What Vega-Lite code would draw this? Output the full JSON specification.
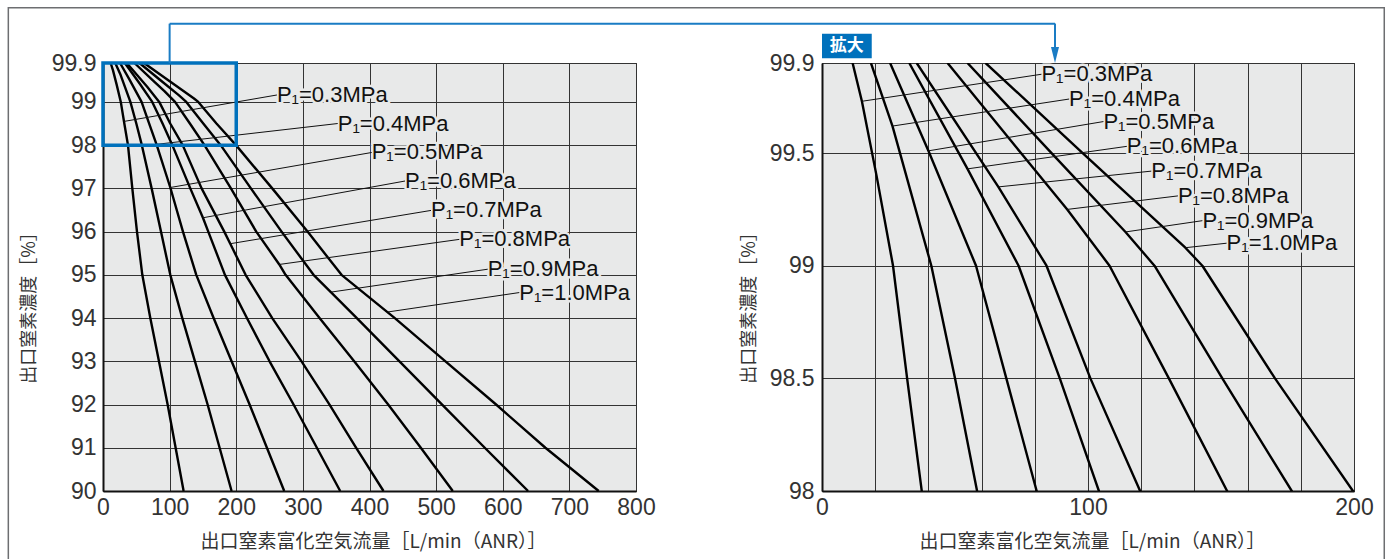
{
  "$schema": "https://vega.github.io/schema/vega-lite/v6.json",
  "background": "white",
  "padding": {"left": 7, "top": 6, "right": 0, "bottom": 0},
  "bounds": "flush",
  "spacing": 186,
  "config": {
    "view": {"stroke": "#222222", "strokeWidth": 1, "fill": "#e8e9e9"},
    "axis": {
      "labelFont": "Liberation Sans", "labelFontSize": 23, "labelColor": "#333333",
      "titleFont": "Noto Sans CJK JP", "titleFontWeight": "normal", "titleColor": "#333333",
      "gridColor": "#333333", "gridWidth": 1, "gridOpacity": 1,
      "ticks": false, "domainColor": "#111111", "domainWidth": 2,
      "labelFlush": false, "labelOverlap": false
    },
    "text": {"font": "Liberation Sans"}
  },
  "datasets": {
    "curves": [
      {"p": "0.3", "i": 0, "x": 11.5, "y": 99.9}, {"p": "0.3", "i": 1, "x": 15, "y": 99.73}, {"p": "0.3", "i": 2, "x": 20.5, "y": 99.4}, {"p": "0.3", "i": 3, "x": 26.7, "y": 99}, {"p": "0.3", "i": 4, "x": 32, "y": 98.5}, {"p": "0.3", "i": 5, "x": 37.5, "y": 98}, {"p": "0.3", "i": 6, "x": 44, "y": 97}, {"p": "0.3", "i": 7, "x": 51, "y": 96}, {"p": "0.3", "i": 8, "x": 59, "y": 95}, {"p": "0.3", "i": 9, "x": 71, "y": 94}, {"p": "0.3", "i": 10, "x": 84, "y": 93}, {"p": "0.3", "i": 11, "x": 97, "y": 92}, {"p": "0.3", "i": 12, "x": 109, "y": 91}, {"p": "0.3", "i": 13, "x": 121, "y": 90},
      {"p": "0.4", "i": 0, "x": 18.4, "y": 99.9}, {"p": "0.4", "i": 1, "x": 26.5, "y": 99.62}, {"p": "0.4", "i": 2, "x": 41.1, "y": 99}, {"p": "0.4", "i": 3, "x": 50, "y": 98.5}, {"p": "0.4", "i": 4, "x": 58.3, "y": 98}, {"p": "0.4", "i": 5, "x": 73, "y": 97}, {"p": "0.4", "i": 6, "x": 87, "y": 96}, {"p": "0.4", "i": 7, "x": 101, "y": 95}, {"p": "0.4", "i": 8, "x": 119, "y": 94}, {"p": "0.4", "i": 9, "x": 138, "y": 93}, {"p": "0.4", "i": 10, "x": 157, "y": 92}, {"p": "0.4", "i": 11, "x": 175, "y": 91}, {"p": "0.4", "i": 12, "x": 193, "y": 90},
      {"p": "0.5", "i": 0, "x": 25.6, "y": 99.9}, {"p": "0.5", "i": 1, "x": 40, "y": 99.51}, {"p": "0.5", "i": 2, "x": 57.9, "y": 99}, {"p": "0.5", "i": 3, "x": 69.3, "y": 98.5}, {"p": "0.5", "i": 4, "x": 80.7, "y": 98}, {"p": "0.5", "i": 5, "x": 101, "y": 97.02}, {"p": "0.5", "i": 6, "x": 120, "y": 96}, {"p": "0.5", "i": 7, "x": 140, "y": 95}, {"p": "0.5", "i": 8, "x": 166, "y": 94}, {"p": "0.5", "i": 9, "x": 193, "y": 93}, {"p": "0.5", "i": 10, "x": 220, "y": 92}, {"p": "0.5", "i": 11, "x": 246, "y": 91}, {"p": "0.5", "i": 12, "x": 272, "y": 90},
      {"p": "0.6", "i": 0, "x": 32.8, "y": 99.9}, {"p": "0.6", "i": 1, "x": 54.7, "y": 99.43}, {"p": "0.6", "i": 2, "x": 73.9, "y": 99}, {"p": "0.6", "i": 3, "x": 89.4, "y": 98.5}, {"p": "0.6", "i": 4, "x": 104.1, "y": 98}, {"p": "0.6", "i": 5, "x": 131, "y": 97}, {"p": "0.6", "i": 6, "x": 150, "y": 96.32}, {"p": "0.6", "i": 7, "x": 158, "y": 96}, {"p": "0.6", "i": 8, "x": 183, "y": 95}, {"p": "0.6", "i": 9, "x": 216, "y": 94}, {"p": "0.6", "i": 10, "x": 250, "y": 93}, {"p": "0.6", "i": 11, "x": 286, "y": 92}, {"p": "0.6", "i": 12, "x": 321, "y": 91}, {"p": "0.6", "i": 13, "x": 356, "y": 90},
      {"p": "0.7", "i": 0, "x": 35.6, "y": 99.9}, {"p": "0.7", "i": 1, "x": 66.3, "y": 99.35}, {"p": "0.7", "i": 2, "x": 84.4, "y": 99}, {"p": "0.7", "i": 3, "x": 100.9, "y": 98.5}, {"p": "0.7", "i": 4, "x": 119.6, "y": 98}, {"p": "0.7", "i": 5, "x": 148, "y": 97}, {"p": "0.7", "i": 6, "x": 182, "y": 96}, {"p": "0.7", "i": 7, "x": 191, "y": 95.72}, {"p": "0.7", "i": 8, "x": 214, "y": 95}, {"p": "0.7", "i": 9, "x": 254, "y": 94}, {"p": "0.7", "i": 10, "x": 298, "y": 93}, {"p": "0.7", "i": 11, "x": 340, "y": 92}, {"p": "0.7", "i": 12, "x": 380, "y": 91}, {"p": "0.7", "i": 13, "x": 421, "y": 90},
      {"p": "0.8", "i": 0, "x": 47.2, "y": 99.9}, {"p": "0.8", "i": 1, "x": 74.8, "y": 99.5}, {"p": "0.8", "i": 2, "x": 92.2, "y": 99.25}, {"p": "0.8", "i": 3, "x": 108.1, "y": 99}, {"p": "0.8", "i": 4, "x": 130.4, "y": 98.5}, {"p": "0.8", "i": 5, "x": 152.3, "y": 98}, {"p": "0.8", "i": 6, "x": 192, "y": 97}, {"p": "0.8", "i": 7, "x": 230, "y": 96}, {"p": "0.8", "i": 8, "x": 264.6, "y": 95.24}, {"p": "0.8", "i": 9, "x": 274, "y": 95}, {"p": "0.8", "i": 10, "x": 325, "y": 94}, {"p": "0.8", "i": 11, "x": 377, "y": 93}, {"p": "0.8", "i": 12, "x": 428, "y": 92}, {"p": "0.8", "i": 13, "x": 477, "y": 91}, {"p": "0.8", "i": 14, "x": 525, "y": 90},
      {"p": "0.9", "i": 0, "x": 54.7, "y": 99.9}, {"p": "0.9", "i": 1, "x": 86.3, "y": 99.5}, {"p": "0.9", "i": 2, "x": 114.1, "y": 99.15}, {"p": "0.9", "i": 3, "x": 125, "y": 99}, {"p": "0.9", "i": 4, "x": 150.5, "y": 98.5}, {"p": "0.9", "i": 5, "x": 176.6, "y": 98}, {"p": "0.9", "i": 6, "x": 222, "y": 97}, {"p": "0.9", "i": 7, "x": 268, "y": 96}, {"p": "0.9", "i": 8, "x": 316, "y": 95}, {"p": "0.9", "i": 9, "x": 342, "y": 94.6}, {"p": "0.9", "i": 10, "x": 381, "y": 94}, {"p": "0.9", "i": 11, "x": 445, "y": 93}, {"p": "0.9", "i": 12, "x": 509, "y": 92}, {"p": "0.9", "i": 13, "x": 573, "y": 91}, {"p": "0.9", "i": 14, "x": 638, "y": 90},
      {"p": "1.0", "i": 0, "x": 61.5, "y": 99.9}, {"p": "1.0", "i": 1, "x": 98, "y": 99.5}, {"p": "1.0", "i": 2, "x": 136.6, "y": 99.08}, {"p": "1.0", "i": 3, "x": 143, "y": 99}, {"p": "1.0", "i": 4, "x": 170.3, "y": 98.5}, {"p": "1.0", "i": 5, "x": 199.6, "y": 98}, {"p": "1.0", "i": 6, "x": 254, "y": 97}, {"p": "1.0", "i": 7, "x": 307, "y": 96}, {"p": "1.0", "i": 8, "x": 358, "y": 95}, {"p": "1.0", "i": 9, "x": 438, "y": 94}, {"p": "1.0", "i": 10, "x": 514, "y": 93}, {"p": "1.0", "i": 11, "x": 590, "y": 92}, {"p": "1.0", "i": 12, "x": 664, "y": 91}, {"p": "1.0", "i": 13, "x": 744, "y": 90}
    ],
    "labels": [
      {"panel": "L", "label": "P\u2081=0.3MPa", "x": 261, "y": 99.16, "x2": 32, "y2": 98.55},
      {"panel": "L", "label": "P\u2081=0.4MPa", "x": 352.3, "y": 98.5, "x2": 58.6, "y2": 97.98},
      {"panel": "L", "label": "P\u2081=0.5MPa", "x": 403.3, "y": 97.83, "x2": 101, "y2": 97.02},
      {"panel": "L", "label": "P\u2081=0.6MPa", "x": 453.3, "y": 97.17, "x2": 150, "y2": 96.32},
      {"panel": "L", "label": "P\u2081=0.7MPa", "x": 492.3, "y": 96.49, "x2": 191, "y2": 95.72},
      {"panel": "L", "label": "P\u2081=0.8MPa", "x": 534.8, "y": 95.82, "x2": 264.6, "y2": 95.24},
      {"panel": "L", "label": "P\u2081=0.9MPa", "x": 577.4, "y": 95.13, "x2": 342, "y2": 94.6},
      {"panel": "L", "label": "P\u2081=1.0MPa", "x": 624.8, "y": 94.59, "x2": 427, "y2": 94.14},
      {"panel": "R", "label": "P\u2081=0.3MPa", "x": 82.5, "y": 99.85, "x2": 15, "y2": 99.73},
      {"panel": "R", "label": "P\u2081=0.4MPa", "x": 92.9, "y": 99.74, "x2": 26.5, "y2": 99.62},
      {"panel": "R", "label": "P\u2081=0.5MPa", "x": 105.8, "y": 99.64, "x2": 40, "y2": 99.51},
      {"panel": "R", "label": "P\u2081=0.6MPa", "x": 114.6, "y": 99.53, "x2": 54.7, "y2": 99.43},
      {"panel": "R", "label": "P\u2081=0.7MPa", "x": 123.8, "y": 99.42, "x2": 66.3, "y2": 99.35},
      {"panel": "R", "label": "P\u2081=0.8MPa", "x": 133.8, "y": 99.31, "x2": 92.2, "y2": 99.25},
      {"panel": "R", "label": "P\u2081=0.9MPa", "x": 143, "y": 99.2, "x2": 114.1, "y2": 99.15},
      {"panel": "R", "label": "P\u2081=1.0MPa", "x": 152.1, "y": 99.1, "x2": 136.6, "y2": 99.08}
    ]
  },
  "hconcat": [
    {
      "width": 533,
      "height": 428,
      "layer": [
        {
          "data": {"values": [{"x": -142.1, "x2": 1923.1, "y": 101.18, "y2": 88.2}]},
          "mark": {"type": "rect", "fill": "transparent", "stroke": "#6d6e71", "strokeWidth": 1.5},
          "encoding": {
            "x": {"field": "x", "type": "quantitative", "scale": {"domain": [0, 800], "nice": false, "zero": false},
                  "axis": {"values": [0, 50, 100, 150, 200, 250, 300, 350, 400, 450, 500, 550, 600, 650, 700, 750, 800],
                           "labelExpr": "datum.value % 100 == 0 ? '' + datum.value : ''",
                           "grid": true, "title": "出口窒素富化空気流量［L/min（ANR）］", "titleFontSize": 19, "titleX": 270,
                           "labelPadding": 5, "titlePadding": 13}},
            "x2": {"field": "x2"},
            "y": {"field": "y", "type": "quantitative", "scale": {"domain": [90, 99.9], "nice": false, "zero": false},
                  "axis": {"values": [90, 91, 92, 93, 94, 95, 96, 97, 98, 99, 99.9],
                           "labelExpr": "'' + datum.value",
                           "grid": true, "title": "出口窒素濃度［%］", "titleFontSize": 18, "titleY": 240,
                           "labelPadding": 7, "titlePadding": 13}},
            "y2": {"field": "y2"}
          }
        },
        {
          "data": {"name": "curves"},
          "mark": {"type": "line", "color": "#000000", "strokeWidth": 2.4, "strokeJoin": "round"},
          "encoding": {
            "x": {"field": "x", "type": "quantitative"},
            "y": {"field": "y", "type": "quantitative"},
            "detail": {"field": "p"},
            "order": {"field": "i", "type": "quantitative"}
          }
        },
        {
          "data": {"name": "labels"},
          "transform": [{"filter": "datum.panel == 'L'"}],
          "mark": {"type": "text", "align": "left", "baseline": "middle", "fontSize": 22, "stroke": "#e8e9e9", "strokeWidth": 5, "strokeJoin": "round", "fill": "#e8e9e9"},
          "encoding": {
            "x": {"field": "x", "type": "quantitative"},
            "y": {"field": "y", "type": "quantitative"},
            "text": {"field": "label"}
          }
        },
        {
          "data": {"name": "labels"},
          "transform": [{"filter": "datum.panel == 'L'"}],
          "mark": {"type": "rule", "color": "#111111", "strokeWidth": 1},
          "encoding": {
            "x": {"field": "x", "type": "quantitative"},
            "y": {"field": "y", "type": "quantitative"},
            "x2": {"field": "x2"},
            "y2": {"field": "y2"}
          }
        },
        {
          "data": {"name": "labels"},
          "transform": [{"filter": "datum.panel == 'L'"}],
          "mark": {"type": "text", "align": "left", "baseline": "middle", "fontSize": 22, "fill": "#111111"},
          "encoding": {
            "x": {"field": "x", "type": "quantitative"},
            "y": {"field": "y", "type": "quantitative"},
            "text": {"field": "label"}
          }
        },
        {
          "data": {"values": [{"x": 0, "x2": 200, "y": 98, "y2": 99.9}]},
          "mark": {"type": "rect", "fill": "transparent", "stroke": "#0071bc", "strokeWidth": 3.5},
          "encoding": {
            "x": {"field": "x", "type": "quantitative"},
            "x2": {"field": "x2"},
            "y": {"field": "y", "type": "quantitative"},
            "y2": {"field": "y2"}
          }
        },
        {
          "data": {"values": [{"x": 100, "x2": 100, "y": 99.9, "y2": 100.81}, {"x": 100, "x2": 1429, "y": 100.81, "y2": 100.81}]},
          "mark": {"type": "rule", "color": "#1a7cc4", "strokeWidth": 2},
          "encoding": {
            "x": {"field": "x", "type": "quantitative"},
            "x2": {"field": "x2"},
            "y": {"field": "y", "type": "quantitative"},
            "y2": {"field": "y2"}
          }
        }
      ]
    },
    {
      "width": 532,
      "height": 428,
      "layer": [
        {
          "data": {"name": "curves"},
          "mark": {"type": "line", "color": "#000000", "strokeWidth": 2.4, "strokeJoin": "round", "clip": true},
          "encoding": {
            "x": {"field": "x", "type": "quantitative", "scale": {"domain": [0, 200], "nice": false, "zero": false},
                  "axis": {"values": [0, 10, 20, 30, 40, 50, 60, 70, 80, 90, 100, 110, 120, 130, 140, 150, 160, 170, 180, 190, 200],
                           "labelExpr": "datum.value % 50 == 0 ? '' + datum.value : ''",
                           "grid": true, "title": "出口窒素富化空気流量［L/min（ANR）］", "titleFontSize": 19, "titleX": 270,
                           "labelPadding": 5, "titlePadding": 13}},
            "y": {"field": "y", "type": "quantitative", "scale": {"domain": [98, 99.9], "nice": false, "zero": false},
                  "axis": {"values": [98, 98.5, 99, 99.5, 99.9],
                           "labelExpr": "'' + datum.value",
                           "grid": true, "title": "出口窒素濃度［%］", "titleFontSize": 18, "titleY": 240,
                           "labelPadding": 8, "titlePadding": 11}},
            "detail": {"field": "p"},
            "order": {"field": "i", "type": "quantitative"}
          }
        },
        {
          "data": {"name": "labels"},
          "transform": [{"filter": "datum.panel == 'R'"}],
          "mark": {"type": "text", "align": "left", "baseline": "middle", "fontSize": 22, "stroke": "#e8e9e9", "strokeWidth": 5, "strokeJoin": "round", "fill": "#e8e9e9"},
          "encoding": {
            "x": {"field": "x", "type": "quantitative"},
            "y": {"field": "y", "type": "quantitative"},
            "text": {"field": "label"}
          }
        },
        {
          "data": {"name": "labels"},
          "transform": [{"filter": "datum.panel == 'R'"}],
          "mark": {"type": "rule", "color": "#111111", "strokeWidth": 1},
          "encoding": {
            "x": {"field": "x", "type": "quantitative"},
            "y": {"field": "y", "type": "quantitative"},
            "x2": {"field": "x2"},
            "y2": {"field": "y2"}
          }
        },
        {
          "data": {"name": "labels"},
          "transform": [{"filter": "datum.panel == 'R'"}],
          "mark": {"type": "text", "align": "left", "baseline": "middle", "fontSize": 22, "fill": "#111111"},
          "encoding": {
            "x": {"field": "x", "type": "quantitative"},
            "y": {"field": "y", "type": "quantitative"},
            "text": {"field": "label"}
          }
        },
        {
          "data": {"values": [{"x": 0, "x2": 18.7, "y": 99.921, "y2": 100.03}]},
          "mark": {"type": "rect", "fill": "#0071bc"},
          "encoding": {
            "x": {"field": "x", "type": "quantitative"},
            "x2": {"field": "x2"},
            "y": {"field": "y", "type": "quantitative"},
            "y2": {"field": "y2"}
          }
        },
        {
          "data": {"values": [{"x": 9.35, "y": 99.975, "t": "拡大"}]},
          "mark": {"type": "text", "align": "center", "baseline": "middle", "font": "Noto Sans CJK JP", "fontWeight": "bold", "fontSize": 17, "fill": "white"},
          "encoding": {
            "x": {"field": "x", "type": "quantitative"},
            "y": {"field": "y", "type": "quantitative"},
            "text": {"field": "t"}
          }
        },
        {
          "data": {"values": [{"x": 87.6, "x2": 87.6, "y": 100.075, "y2": 99.97}]},
          "mark": {"type": "rule", "color": "#1a7cc4", "strokeWidth": 2},
          "encoding": {
            "x": {"field": "x", "type": "quantitative"},
            "x2": {"field": "x2"},
            "y": {"field": "y", "type": "quantitative"},
            "y2": {"field": "y2"}
          }
        },
        {
          "data": {"values": [{"x": 87.6, "y": 99.9}]},
          "mark": {"type": "point", "shape": "M-0.5,-2L0.5,-2L0,0Z", "size": 256, "filled": true, "color": "#1a7cc4", "opacity": 1},
          "encoding": {
            "x": {"field": "x", "type": "quantitative"},
            "y": {"field": "y", "type": "quantitative"}
          }
        }
      ]
    }
  ]
}
